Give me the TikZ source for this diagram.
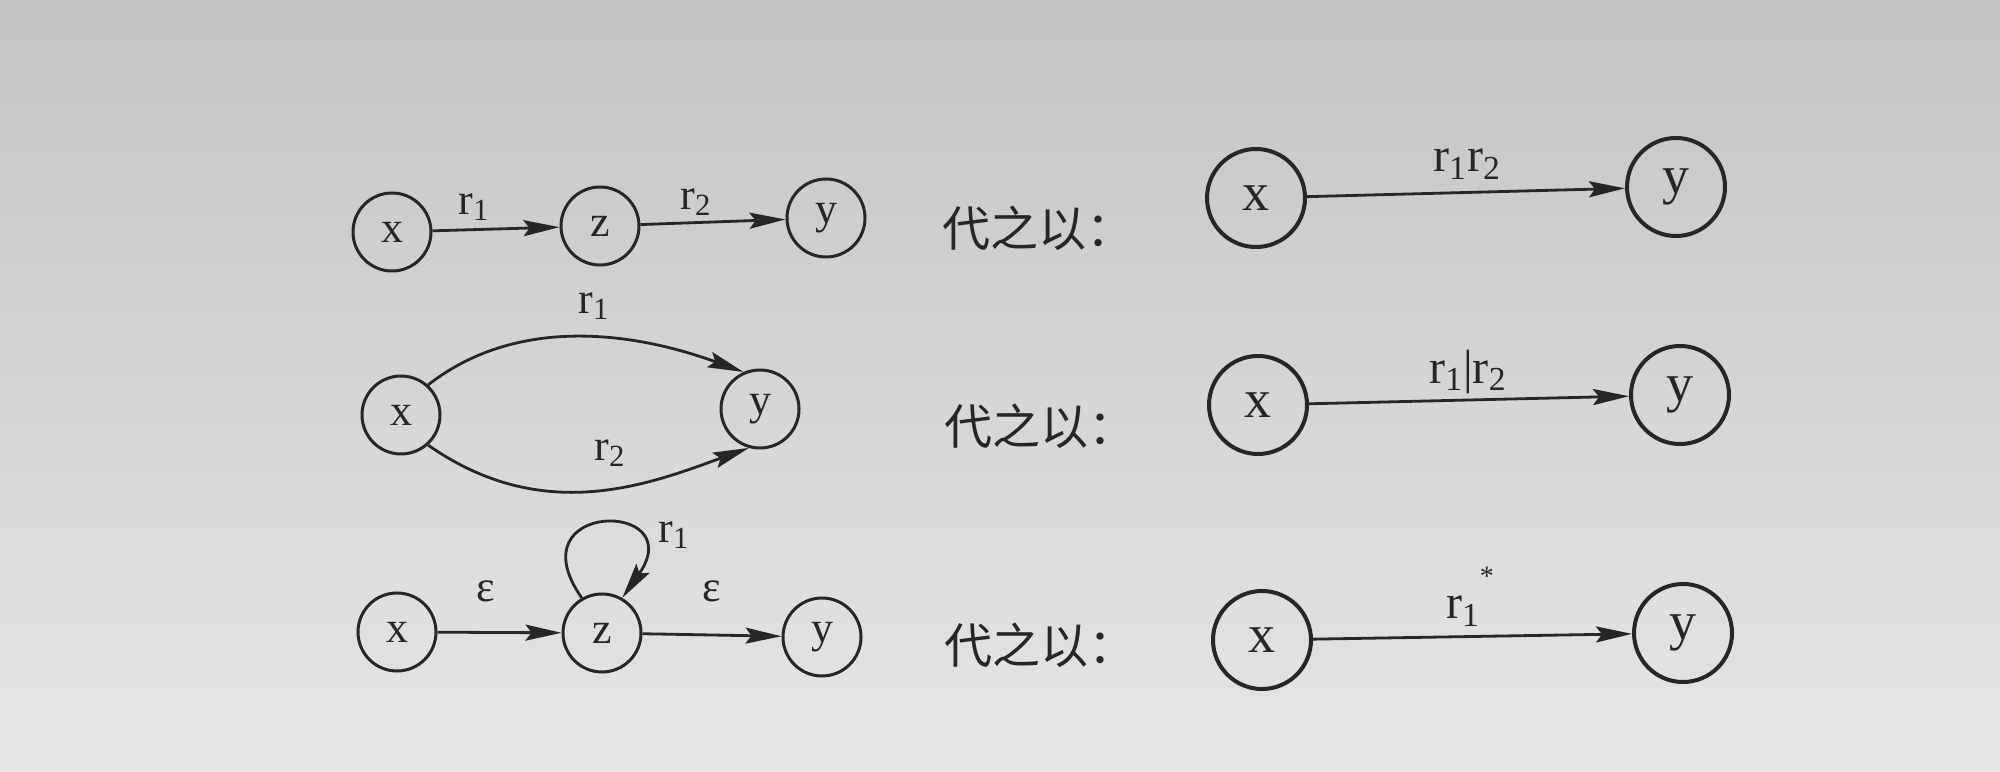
\documentclass[tikz,border=0pt]{standalone}
\usepackage{fontspec}
\setmainfont{Liberation Serif}
\newfontfamily\cjk{Noto Sans CJK SC}
\usetikzlibrary{arrows.meta}
\definecolor{ink}{RGB}{38,38,38}
\definecolor{papertop}{RGB}{196,196,194}
\definecolor{paperbot}{RGB}{230,230,228}
\begin{document}
\begin{tikzpicture}[x=0.5pt,y=0.5pt,
 st/.style={circle,draw=ink,line width=1.5pt,minimum size=39pt,inner sep=0pt,text=ink,font=\fontsize{22}{24}\selectfont},
 bst/.style={circle,draw=ink,line width=2pt,minimum size=49pt,inner sep=0pt,text=ink,font=\fontsize{27}{30}\selectfont},
 edge/.style={draw=ink,line width=1.4pt,-{Stealth[length=18pt,width=8pt,inset=3pt]}},
 lbl/.style={text=ink,inner sep=0pt,font=\fontsize{22}{24}\selectfont},
 blbl/.style={text=ink,inner sep=0pt,font=\fontsize{24}{26}\selectfont},
 say/.style={text=ink,inner sep=0pt,font=\cjk\fontsize{24}{26}\selectfont}]
\shade[top color=papertop,bottom color=paperbot] (0,0) rectangle (2000,771);
\useasboundingbox (0,0) rectangle (2000,771);
% row 1
\node[st] (x1) at (392,539) {x};
\node[st] (z1) at (600,545) {z};
\node[st] (y1) at (826,553) {y};
\draw[edge] (x1) -- (z1);
\draw[edge] (z1) -- (y1);
\node[lbl] (l11) at (474,564) {r\textsubscript{1}};
\node[lbl] (l12) at (696,569) {r\textsubscript{2}};
\node[say] (t1) at (1038,543) {代之以：};
\node[bst] (X1) at (1256,573) {x};
\node[bst] (Y1) at (1676,584) {y};
\draw[edge] (X1) -- (Y1);
\node[blbl] (L1) at (1467,607) {r\textsubscript{1}r\textsubscript{2}};
% row 2
\node[st] (x2) at (401,356) {x};
\node[st] (y2) at (760,362) {y};
\draw[edge] (x2.48) .. controls +(38:130) and +(160:85) .. (y2.114);
\draw[edge] (x2.-48) .. controls +(-35:140) and +(200:108) .. (y2.-106);
\node[lbl] (l21) at (594,465) {r\textsubscript{1}};
\node[lbl] (l22) at (610,318) {r\textsubscript{2}};
\node[say] (t2) at (1040,345) {代之以：};
\node[bst] (X2) at (1258,366) {x};
\node[bst] (Y2) at (1680,376) {y};
\draw[edge] (X2) -- (Y2);
\node[blbl] (L2) at (1468,399) {r\textsubscript{1}|r\textsubscript{2}};
% row 3
\node[st] (x3) at (397,139) {x};
\node[st] (z3) at (602,138) {z};
\node[st] (y3) at (822,134) {y};
\draw[edge] (x3) -- (z3);
\draw[edge] (z3) -- (y3);
\draw[edge] (z3.120) .. controls +(125:120) and +(55:120) .. (z3.60);
\node[lbl] (e1) at (486,180) {ε};
\node[lbl] (e2) at (712,180) {ε};
\node[lbl] (l31) at (674,236) {r\textsubscript{1}};
\node[say] (t3) at (1040,126) {代之以：};
\node[bst] (X3) at (1262,131) {x};
\node[bst] (Y3) at (1683,138) {y};
\draw[edge] (X3) -- (Y3);
\node[blbl] (L3) at (1470,174) {r\textsubscript{1}\raisebox{1.5ex}{\fontsize{14}{14}\selectfont *}};
\end{tikzpicture}
\end{document}
